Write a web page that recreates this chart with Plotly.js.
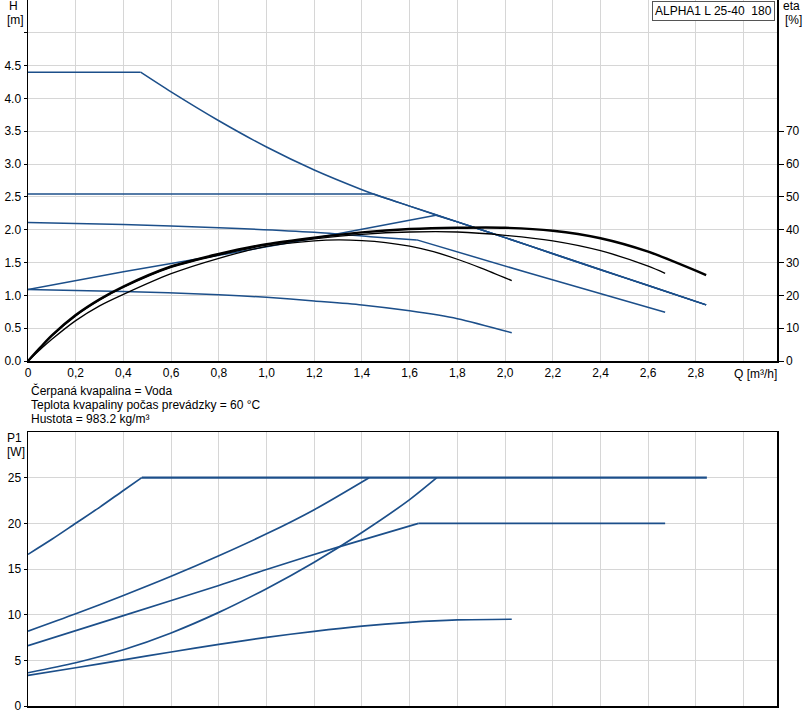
<!DOCTYPE html>
<html>
<head>
<meta charset="utf-8">
<script src="https://cdn.plot.ly/plotly-3.0.1.min.js"></script>
<style>html,body{margin:0;padding:0;background:#fff;}#chart{width:804px;height:723px;}</style>
</head>
<body>
<div id="chart"></div>
<script>
// ---- Head curves H [m] vs Q [m3/h]
// max curve: flat part then falling curve
const qMaxFlat = [0, 0.472];
const hMaxFlat = [4.40, 4.40];
const qMax = [0.472, 0.6, 0.8, 1.0, 1.2, 1.4, 1.448, 1.6, 1.8, 2.0, 2.2, 2.4, 2.6, 2.843];
const hMax = [4.40, 4.10, 3.66, 3.26, 2.91, 2.61, 2.545, 2.36, 2.12, 1.88, 1.635, 1.39, 1.15, 0.855];
// constant pressure 2.55 m (joins max curve at Q = 1.448)
const qConst = [0, 1.448];
const hConst = [2.545, 2.545];
// middle curve with a kink
const qMidCurve = [0, 0.4, 0.8, 1.2, 1.45, 1.63];
const hMidCurve = [2.11, 2.08, 2.03, 1.96, 1.89, 1.845];
const qMidTail = [1.63, 2.1, 2.671];
const hMidTail = [1.845, 1.34, 0.742];
// proportional pressure (joins max curve at Q = 1.71)
const qProp = [0, 0.4, 0.8, 1.2, 1.71];
const hProp = [1.09, 1.36, 1.61, 1.87, 2.22];
// lowest curve
const qLow = [0, 0.4, 0.8, 1.0, 1.2, 1.4, 1.6, 1.8, 2.028];
const hLow = [1.09, 1.06, 1.01, 0.97, 0.915, 0.855, 0.765, 0.645, 0.43];

// ---- Efficiency curves eta [%]
const qEtaA = [0, 0.05, 0.1, 0.2, 0.3, 0.4, 0.6, 0.8, 1.0, 1.2, 1.4, 1.6, 1.8, 2.0, 2.2, 2.4, 2.6, 2.843];
const etaA  = [0, 4.0, 7.8, 14.0, 18.8, 22.7, 28.8, 32.6, 35.6, 37.6, 39.2, 40.2, 40.6, 40.6, 39.7, 37.4, 33.3, 26.2];
const qEtaC = [0, 0.05, 0.1, 0.2, 0.3, 0.4, 0.6, 0.8, 1.0, 1.2, 1.4, 1.6, 1.8, 2.0, 2.2, 2.4, 2.6, 2.671];
const etaC  = [0, 3.9, 7.6, 13.7, 18.5, 22.4, 28.5, 32.3, 35.3, 37.2, 38.6, 39.3, 39.3, 38.3, 36.6, 33.6, 28.9, 26.7];
const qEtaE = [0, 0.05, 0.1, 0.2, 0.3, 0.4, 0.6, 0.8, 1.0, 1.2, 1.3, 1.4, 1.5, 1.6, 1.7, 1.8, 1.9, 2.028];
const etaE  = [0, 3.4, 6.6, 12.3, 16.8, 20.3, 26.6, 31.3, 34.9, 36.6, 36.9, 36.7, 36.1, 35.0, 33.3, 31.0, 28.3, 24.5];

// ---- Power curves P1 [W]
const qPA = [0, 0.1, 0.2, 0.3, 0.4, 0.477];
const pA  = [16.6, 18.25, 20.0, 21.75, 23.6, 25];
const qPB = [0, 0.2, 0.4, 0.6, 0.8, 1.0, 1.2, 1.43];
const pB  = [8.2, 10.1, 12.1, 14.2, 16.45, 18.85, 21.5, 25];
const qPC = [0, 0.4, 0.8, 1.0, 1.3, 1.637];
const pC  = [6.6, 9.9, 13.2, 14.95, 17.4, 20];
const qPD = [0, 0.2, 0.4, 0.6, 0.8, 1.0, 1.2, 1.4, 1.6, 1.714];
const pD  = [3.64, 4.74, 6.16, 8.0, 10.25, 12.85, 15.75, 19.0, 22.6, 25];
const qPE = [0, 0.2, 0.4, 0.6, 0.8, 1.0, 1.2, 1.4, 1.6, 1.8, 2.028];
const pE  = [3.35, 4.19, 5.05, 5.91, 6.74, 7.51, 8.18, 8.75, 9.16, 9.42, 9.5];
// flat power limits
const qP25 = [0.477, 2.846];
const pP25 = [25, 25];
const qP20 = [1.637, 2.671];
const pP20 = [20, 20];

// ---- Ticks
const qTicks = [0, 0.2, 0.4, 0.6, 0.8, 1.0, 1.2, 1.4, 1.6, 1.8, 2.0, 2.2, 2.4, 2.6, 2.8, 3.0];
const qTickText = ['0', '0,2', '0,4', '0,6', '0,8', '1,0', '1,2', '1,4', '1,6', '1,8', '2,0', '2,2', '2,4', '2,6', '2,8', ''];
const hTicks = [0, 0.5, 1.0, 1.5, 2.0, 2.5, 3.0, 3.5, 4.0, 4.5, 5.0];
const hTickText = ['0.0', '0.5', '1.0', '1.5', '2.0', '2.5', '3.0', '3.5', '4.0', '4.5', ''];
const etaTicks = [0, 10, 20, 30, 40, 50, 60, 70];
const pTicks = [0, 5, 10, 15, 20, 25];

const BLUE = '#1c4f8a';
const font = {family: 'Liberation Sans, Arial, sans-serif', size: 12, color: '#000'};

function line(x, y, xa, ya, color, width, shape) {
  return {x: x, y: y, xaxis: xa, yaxis: ya, type: 'scatter', mode: 'lines',
          line: {color: color, width: width, shape: shape || 'linear', smoothing: 0.8},
          hoverinfo: 'skip', showlegend: false};
}
function tailFrom(q, h, q0) {
  const xs = [], ys = [];
  for (let i = 0; i < q.length; i++) if (q[i] >= q0 - 1e-9) { xs.push(q[i]); ys.push(h[i]); }
  return [xs, ys];
}
const constTail = tailFrom(qMax, hMax, 1.448);
const propTail = tailFrom(qMax, hMax, 1.8);

const traces = [
  line(qMaxFlat, hMaxFlat, 'x', 'y', BLUE, 1.5),
  line(qMax, hMax, 'x', 'y', BLUE, 1.5, 'spline'),
  line(qConst, hConst, 'x', 'y', BLUE, 1.5),
  line(constTail[0], constTail[1], 'x', 'y', BLUE, 1.5, 'spline'),
  line(qMidCurve, hMidCurve, 'x', 'y', BLUE, 1.5, 'spline'),
  line(qMidTail, hMidTail, 'x', 'y', BLUE, 1.5),
  line(qProp, hProp, 'x', 'y', BLUE, 1.5),
  line([qProp[qProp.length - 1]].concat(propTail[0]), [hProp[hProp.length - 1]].concat(propTail[1]), 'x', 'y', BLUE, 1.5),
  line(qLow, hLow, 'x', 'y', BLUE, 1.5, 'spline'),
  line(qEtaE, etaE, 'x', 'y2', '#000', 1.3, 'spline'),
  line(qEtaC, etaC, 'x', 'y2', '#000', 1.3, 'spline'),
  line(qEtaA, etaA, 'x', 'y2', '#000', 2.4, 'spline'),
  line(qPA, pA, 'x2', 'y3', BLUE, 1.7, 'spline'),
  line(qPB, pB, 'x2', 'y3', BLUE, 1.7, 'spline'),
  line(qPC, pC, 'x2', 'y3', BLUE, 1.7, 'spline'),
  line(qPD, pD, 'x2', 'y3', BLUE, 1.7, 'spline'),
  line(qPE, pE, 'x2', 'y3', BLUE, 1.7, 'spline'),
  line(qP25, pP25, 'x2', 'y3', BLUE, 2.2),
  line(qP20, pP20, 'x2', 'y3', BLUE, 1.7)
];

// pixel helpers (plot area: x 28..777, y 0..706)
const L = 28, W = 749, H = 706;
const px = v => (v - L) / W;
const py = v => (H - v) / H;

function txt(text, x, y, xanchor, yanchor) {
  return {text: text, xref: 'paper', yref: 'paper', x: px(x), y: py(y),
          xanchor: xanchor || 'left', yanchor: yanchor || 'middle', showarrow: false, font: font};
}

const GRID = '#d6d6d6';
const layout = {
  width: 804, height: 723,
  margin: {l: L, r: 804 - 777, t: 0, b: 723 - H},
  paper_bgcolor: '#fff', plot_bgcolor: '#fff',
  font: font,
  showlegend: false,
  xaxis: {domain: [0, 1], anchor: 'y', range: [0, 3.14], tickvals: qTicks, ticktext: qTickText,
          showgrid: true, gridcolor: GRID, gridwidth: 1, zeroline: false, showline: true,
          linecolor: '#000', linewidth: 1.5, ticks: '', tickfont: font, fixedrange: true},
  yaxis: {domain: [(H - 361) / H, 1], anchor: 'x', range: [0, 5.5], tickvals: hTicks, ticktext: hTickText,
          showgrid: true, gridcolor: GRID, gridwidth: 1, zeroline: false, showline: true,
          linecolor: '#000', linewidth: 1.5, ticks: 'outside', ticklen: 3, tickcolor: '#000', tickfont: font},
  yaxis2: {overlaying: 'y', side: 'right', anchor: 'x', range: [0, 110], tickvals: etaTicks,
           showgrid: false, zeroline: false, showline: true, linecolor: '#000', linewidth: 1.5,
           ticks: 'outside', ticklen: 5, tickcolor: '#000', tickfont: font},
  xaxis2: {domain: [0, 1], anchor: 'y3', range: [0, 3.14], tickvals: qTicks, showticklabels: false,
           showgrid: true, gridcolor: GRID, gridwidth: 1, zeroline: false, showline: true, mirror: true,
           linecolor: '#000', linewidth: 1.5, ticks: ''},
  yaxis3: {domain: [0, (H - 432) / H], anchor: 'x2', range: [0, 30], tickvals: pTicks,
           showgrid: true, gridcolor: GRID, gridwidth: 1, zeroline: false, showline: true, mirror: true,
           linecolor: '#000', linewidth: 1.5, ticks: 'outside', ticklen: 3, tickcolor: '#000', tickfont: font},
  annotations: [
    txt('H', 7, 6),
    txt('[m]', 5, 20),
    txt('eta', 781, 6),
    txt('[%]', 783, 20),
    txt('Q [m³/h]', 755, 374, 'center'),
    txt('Čerpaná kvapalina = Voda', 29, 391),
    txt('Teplota kvapaliny počas prevádzky = 60 °C', 29, 405),
    txt('Hustota = 983.2 kg/m³', 29, 419),
    txt('P1', 5, 438),
    txt('[W]', 5, 452),
    Object.assign(txt('ALPHA1 L 25-40\u00a0 180', 775, 1, 'right', 'top'),
      {bgcolor: '#fff', bordercolor: '#555', borderwidth: 1, borderpad: 2})
  ]
};

Plotly.newPlot('chart', traces, layout, {displayModeBar: false, staticPlot: true});
</script>
</body>
</html>
